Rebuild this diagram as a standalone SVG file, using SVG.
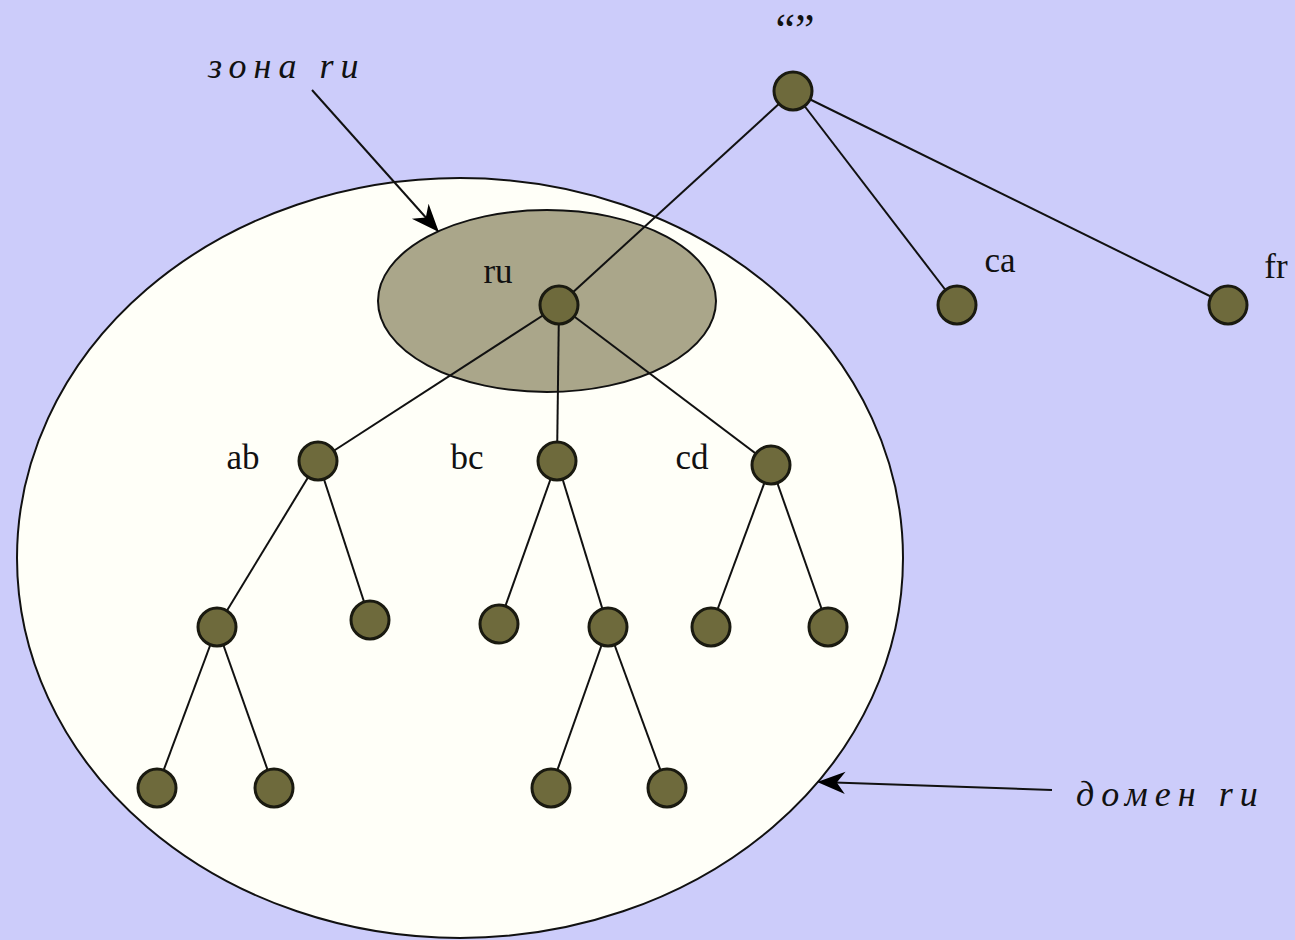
<svg xmlns="http://www.w3.org/2000/svg" width="1295" height="940" viewBox="0 0 1295 940">
<defs>
<style>
.n{fill:#6e6a3c;stroke:#1a1a10;stroke-width:3}
.e{stroke:#111;stroke-width:2;fill:none}
.l{font-family:"Liberation Serif",serif;font-size:35px;fill:#111}
.q{font-size:44px}
.i{font-family:"Liberation Serif",serif;font-style:italic;font-size:36px;fill:#111;letter-spacing:7px}
</style>
<marker id="ah2" viewBox="0 0 10 10" refX="9" refY="5" markerWidth="28" markerHeight="28" markerUnits="userSpaceOnUse" orient="auto"><path d="M0,1 L10,5 L0,9 L3,5 z" fill="#000"/></marker>
</defs>
<rect width="1295" height="940" fill="#ccccfa"/>
<g id="domain"><ellipse cx="460" cy="558" rx="443" ry="380" fill="#fffff8" stroke="#111" stroke-width="2"/></g>
<g id="zone"><ellipse cx="547" cy="301" rx="169" ry="91" fill="#aaa68a" stroke="#111" stroke-width="2"/></g>
<g id="connectors">
<line class="e" x1="793" y1="91" x2="559" y2="305"/>
<line class="e" x1="793" y1="91" x2="957" y2="305"/>
<line class="e" x1="793" y1="91" x2="1228" y2="305"/>
<line class="e" x1="559" y1="305" x2="318" y2="461"/>
<line class="e" x1="559" y1="305" x2="557" y2="461"/>
<line class="e" x1="559" y1="305" x2="771" y2="465"/>
<line class="e" x1="318" y1="461" x2="217" y2="627"/>
<line class="e" x1="318" y1="461" x2="370" y2="620"/>
<line class="e" x1="557" y1="461" x2="499" y2="624"/>
<line class="e" x1="557" y1="461" x2="608" y2="627"/>
<line class="e" x1="771" y1="465" x2="711" y2="627"/>
<line class="e" x1="771" y1="465" x2="828" y2="627"/>
<line class="e" x1="217" y1="627" x2="157" y2="788"/>
<line class="e" x1="217" y1="627" x2="274" y2="788"/>
<line class="e" x1="608" y1="627" x2="551" y2="788"/>
<line class="e" x1="608" y1="627" x2="667" y2="788"/>
<line class="e" x1="312" y1="90" x2="437" y2="230" marker-end="url(#ah2)"/>
<line class="e" x1="1052" y1="790" x2="820" y2="782" marker-end="url(#ah2)"/>
</g>
<g id="node-root"><circle class="n" cx="793" cy="91" r="19"/><text class="l q" x="795" y="44" text-anchor="middle">“”</text></g>
<g id="node-ru"><circle class="n" cx="559" cy="305" r="19"/><text class="l" x="498" y="283" text-anchor="middle">ru</text></g>
<g id="node-ca"><circle class="n" cx="957" cy="305" r="19"/><text class="l" x="1000" y="272" text-anchor="middle">ca</text></g>
<g id="node-fr"><circle class="n" cx="1228" cy="305" r="19"/><text class="l" x="1276" y="278" text-anchor="middle">fr</text></g>
<g id="node-ab"><circle class="n" cx="318" cy="461" r="19"/><text class="l" x="243" y="469" text-anchor="middle">ab</text></g>
<g id="node-bc"><circle class="n" cx="557" cy="461" r="19"/><text class="l" x="467" y="469" text-anchor="middle">bc</text></g>
<g id="node-cd"><circle class="n" cx="771" cy="465" r="19"/><text class="l" x="692" y="469" text-anchor="middle">cd</text></g>
<g id="node-ab1"><circle class="n" cx="217" cy="627" r="19"/></g>
<g id="node-ab2"><circle class="n" cx="370" cy="620" r="19"/></g>
<g id="node-bc1"><circle class="n" cx="499" cy="624" r="19"/></g>
<g id="node-bc2"><circle class="n" cx="608" cy="627" r="19"/></g>
<g id="node-cd1"><circle class="n" cx="711" cy="627" r="19"/></g>
<g id="node-cd2"><circle class="n" cx="828" cy="627" r="19"/></g>
<g id="node-ab11"><circle class="n" cx="157" cy="788" r="19"/></g>
<g id="node-ab12"><circle class="n" cx="274" cy="788" r="19"/></g>
<g id="node-bc21"><circle class="n" cx="551" cy="788" r="19"/></g>
<g id="node-bc22"><circle class="n" cx="667" cy="788" r="19"/></g>
<g id="label-zone"><text class="i" x="208" y="78">зона ru</text></g>
<g id="label-domain"><text class="i" x="1076" y="806">домен ru</text></g>
</svg>
